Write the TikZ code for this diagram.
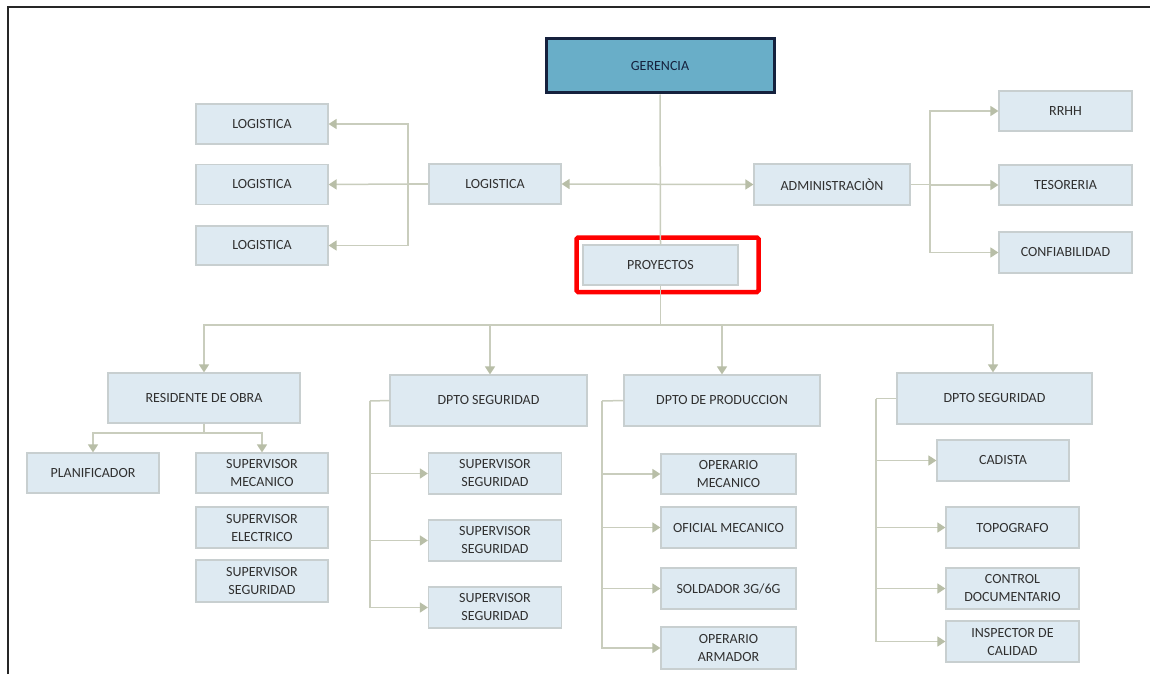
\documentclass[tikz,border=0pt]{standalone}
\usepackage{fontspec}
\setmainfont{Carlito}
\usetikzlibrary{arrows.meta}
\definecolor{boxfill}{HTML}{DEEAF2}
\definecolor{boxline}{HTML}{C8CFD0}
\definecolor{wire}{HTML}{C9CDBD}
\definecolor{tipcol}{HTML}{B8BEA7}
\definecolor{txt}{HTML}{303030}
\definecolor{topfill}{HTML}{69AEC8}
\definecolor{topline}{HTML}{15213D}
\definecolor{hilite}{HTML}{FF0000}
\tikzset{
  box/.style={draw=boxline, fill=boxfill, line width=1.2pt, inner sep=0pt,
    text=txt, align=center, font=\fontsize{14}{18}\selectfont},
  topbox/.style={draw=topline, fill=topfill, line width=3pt, inner sep=0pt,
    text=topline, font=\fontsize{14}{18}\selectfont,
    minimum width=228pt, minimum height=54pt},
  wireline/.style={draw=wire, line width=1.5pt},
  arr/.style={wireline, -{Triangle[length=8pt,width=10pt,fill=tipcol,color=tipcol]}},
  biarr/.style={wireline, {Triangle[length=8pt,width=10pt,fill=tipcol,color=tipcol]}-{Triangle[length=8pt,width=10pt,fill=tipcol,color=tipcol]}},
  hiliteframe/.style={draw=hilite, line width=4.5pt, rounded corners=1.5pt},
}
\newcommand{\bx}[6]{\node[box, minimum width=#4pt, minimum height=#5pt] (#1) at (#2,#3) {#6};}
\begin{document}
\begin{tikzpicture}[x=1pt,y=-1pt]
\useasboundingbox (0,0) rectangle (1150,674);
\fill[white] (0,0) rectangle (1150,674);
% page frame (top and left edges)
\draw[black!85, line width=2pt] (7.5,674) -- (7.5,7.5) -- (1150,7.5);

% top level
\node[topbox] (ger) at (660,66) {GERENCIA};

% second level
\bx{log}{495}{184}{132}{40}{LOGISTICA}
\bx{adm}{832}{184.5}{156}{41}{ADMINISTRACI\`ON}
\bx{proy}{660.5}{265}{155}{40}{PROYECTOS}

\bx{l1}{262}{124}{132}{40}{LOGISTICA}
\bx{l2}{262}{184.5}{132}{40}{LOGISTICA}
\bx{l3}{262}{245.5}{132}{39}{LOGISTICA}

\bx{rrhh}{1065.5}{111}{133}{40}{RRHH}
\bx{teso}{1065.5}{185}{133}{40}{TESORERIA}
\bx{conf}{1065.5}{252.5}{133}{41}{CONFIABILIDAD}

% departments
\bx{res}{204}{398}{192}{50}{RESIDENTE DE OBRA}
\bx{ds1}{488.5}{400.5}{197}{51}{DPTO SEGURIDAD}
\bx{dp}{722}{400.5}{196}{51}{DPTO DE PRODUCCION}
\bx{ds2}{994.5}{398.5}{195}{51}{DPTO SEGURIDAD}

% residente de obra
\bx{plan}{93}{473}{132}{40}{PLANIFICADOR}
\bx{sm}{262}{473}{132}{40}{SUPERVISOR\\MECANICO}
\bx{se}{262}{527.5}{132}{41}{SUPERVISOR\\ELECTRICO}
\bx{ssr}{262}{581}{132}{42}{SUPERVISOR\\SEGURIDAD}

% dpto seguridad
\bx{ss1}{495}{473.5}{133}{41}{SUPERVISOR\\SEGURIDAD}
\bx{ss2}{495}{540.5}{133}{41}{SUPERVISOR\\SEGURIDAD}
\bx{ss3}{495}{607.5}{133}{41}{SUPERVISOR\\SEGURIDAD}

% dpto de produccion
\bx{om}{728.5}{474}{135}{40}{OPERARIO\\MECANICO}
\bx{of}{728.5}{527.5}{135}{41}{OFICIAL MECANICO}
\bx{sold}{728.5}{588.5}{135}{41}{SOLDADOR 3G/6G}
\bx{oa}{728.5}{648}{135}{42}{OPERARIO\\ARMADOR}

% dpto seguridad (right)
\bx{cad}{1003}{460.5}{132}{41}{CADISTA}
\bx{topo}{1012.5}{527.5}{133}{41}{TOPOGRAFO}
\bx{ctrl}{1012.5}{588.5}{133}{41}{CONTROL\\DOCUMENTARIO}
\bx{insp}{1012.5}{641.5}{133}{41}{INSPECTOR DE\\CALIDAD}

% highlight around PROYECTOS
\draw[hiliteframe] (576.5,237.5) rectangle (758.5,292);

% junction points
\coordinate (lbus) at (408,184);
\coordinate (abus) at (930,184.5);
\coordinate (pbus) at (660.5,325);
\coordinate (rbus) at (204,433);
\coordinate (c2) at (370,401);
\coordinate (c3) at (602,401);
\coordinate (c4) at (876,398.5);

% gerencia links
\draw[wireline] (ger.south) -- (proy.north);
\draw[biarr] (log.east) -- (adm.west);

% logistica
\draw[wireline] (log.west) -- (lbus);
\draw[arr] (lbus) |- (l1.east);
\draw[arr] (lbus) -- (l2.east);
\draw[arr] (lbus) |- (l3.east);

% administracion
\draw[wireline] (adm.east) -- (abus);
\draw[arr] (abus) |- (rrhh.west);
\draw[arr] (abus) |- (teso.west);
\draw[arr] (abus) |- (conf.west);

% proyectos
\draw[wireline] (proy.south) -- (pbus);
\draw[arr] (pbus) -| (res.north);
\draw[arr] (pbus) -| ([xshift=1.5pt]ds1.north);
\draw[arr] (pbus) -| (dp.north);
\draw[arr] (pbus) -| ([xshift=-1.5pt]ds2.north);

% residente de obra
\draw[wireline] (res.south) -- (rbus);
\draw[arr] (rbus) -| (plan.north);
\draw[arr] (rbus) -| (sm.north);

% dpto seguridad
\draw[wireline] (ds1.west) -- (c2);
\draw[arr] (c2) |- (ss1.west);
\draw[arr] (c2) |- (ss2.west);
\draw[arr] (c2) |- (ss3.west);

% dpto de produccion
\draw[wireline] (dp.west) -- (c3);
\draw[arr] (c3) |- (om.west);
\draw[arr] (c3) |- (of.west);
\draw[arr] (c3) |- (sold.west);
\draw[arr] (c3) |- (oa.west);

% dpto seguridad (right)
\draw[wireline] (ds2.west) -- (c4);
\draw[arr] (c4) |- (cad.west);
\draw[arr] (c4) |- (topo.west);
\draw[arr] (c4) |- (ctrl.west);
\draw[arr] (c4) |- (insp.west);
\end{tikzpicture}
\end{document}
